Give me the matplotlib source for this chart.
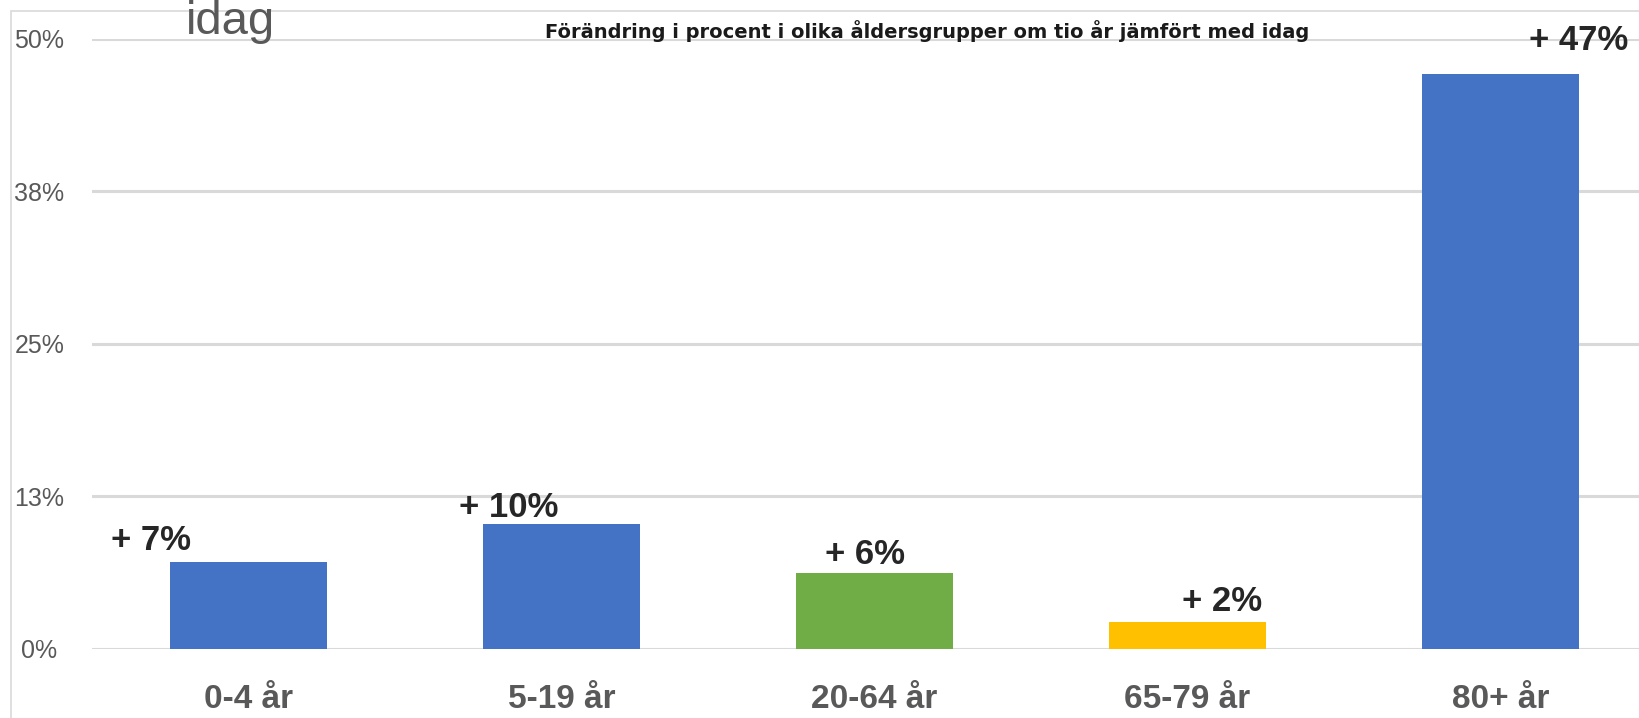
"""Förändring i procent i olika åldersgrupper om tio år jämfört med idag."""

import matplotlib
matplotlib.use("Agg")
import matplotlib.pyplot as plt
from matplotlib.patches import Rectangle

categories = ["0-4 år", "5-19 år", "20-64 år", "65-79 år", "80+ år"]
values = [7.1, 10.2, 6.2, 2.2, 47.1]
value_labels = ["+ 7%", "+ 10%", "+ 6%", "+ 2%", "+ 47%"]
yticks = [0, 12.5, 25, 37.5, 50]
ytick_labels = ["0%", "13%", "25%", "38%", "50%"]

colors = ["#4472C4", "#4472C4", "#70AD47", "#FFC000", "#4472C4"]
# label placement relative to each bar (category units, percent units)
label_dx = [-0.31, -0.17, -0.03, 0.11, 0.25]
label_dy = [1.0, 0.6, 0.76, 0.9, 2.0]

W, H = 1639, 718
fig = plt.figure(figsize=(W / 100, H / 100), dpi=100)
fig.patch.set_facecolor("white")

# faint chart-area border (cut off at right and bottom)
fig.add_artist(Rectangle((10.7 / W, -0.2), 1.2, 1.2 - 10.7 / H,
                         transform=fig.transFigure, fill=False,
                         edgecolor="#d9d9d9", lw=1.2))

ax = fig.add_axes([92 / W, 1 - 649 / H, (1657 - 92) / W, (649 - 38.7) / H])
ax.set_facecolor("none")
x = range(len(categories))
ax.bar(x, values, width=0.5, color=colors, zorder=3)
ax.set_xlim(-0.5, 4.5)
ax.set_ylim(0, 50)

ax.set_yticks(yticks)
ax.set_yticklabels(ytick_labels, fontsize=18, color="#595959",
                   family="Liberation Sans", ha="center")
ax.tick_params(axis="y", length=0, pad=38)
ax.set_xticks(list(x))
ax.set_xticklabels(categories, fontsize=24, fontweight="bold", color="#595959",
                   family="Liberation Sans")
ax.tick_params(axis="x", length=0, pad=25)
ax.grid(axis="y", color="#d9d9d9", lw=2.2, zorder=0)
for s in ax.spines.values():
    s.set_visible(False)

for i, (v, lab) in enumerate(zip(values, value_labels)):
    ax.text(i + label_dx[i], v + label_dy[i], lab, ha="center", va="baseline",
            fontsize=25, fontweight="bold", color="#262626",
            family="Liberation Sans", clip_on=False, zorder=4)

fig.text(927 / W, 1 - 31 / H, "Förändring i procent i olika åldersgrupper om tio år jämfört med idag",
         ha="center", va="center", fontsize=14, fontweight="bold",
         color="#1a1a1a", family="DejaVu Sans")
fig.text(186 / W, 1 - 34.5 / H, "idag", ha="left", va="baseline",
         fontsize=34, color="#595959", family="Liberation Sans")

fig.savefig("out.png", dpi=100)
